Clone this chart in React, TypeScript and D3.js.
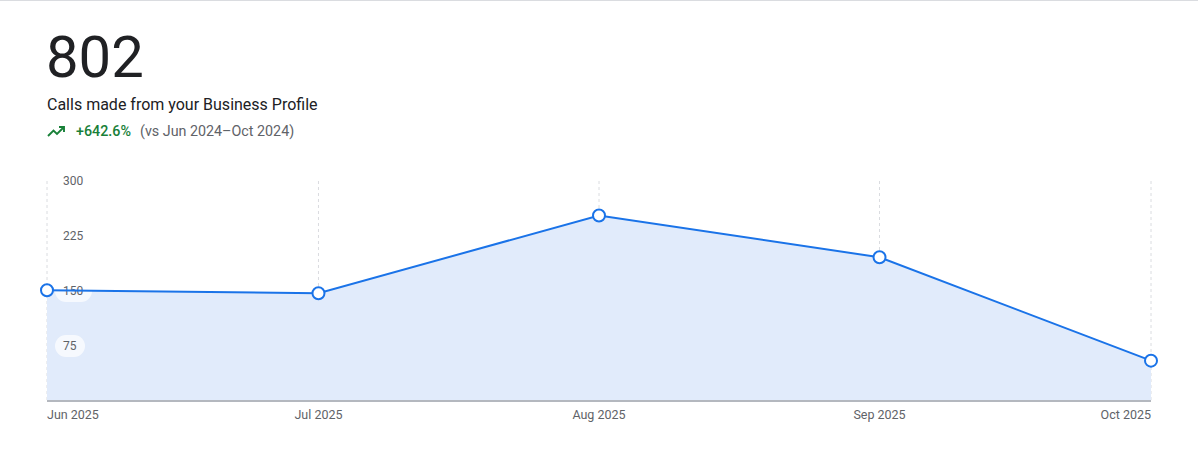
import React from "react";
import * as d3 from "d3";

const months = ["2025-06-01", "2025-07-01", "2025-08-01", "2025-09-01", "2025-10-01"];
const monthLabels = ["Jun 2025", "Jul 2025", "Aug 2025", "Sep 2025", "Oct 2025"];
const calls = [151, 147, 253, 196, 55];
const yTicks = [75, 150, 225, 300];
const total = "802";
const metricLabel = "Calls made from your Business Profile";
const changeLabel = "+642.6%";
const compareLabel = "(vs Jun 2024\u2013Oct 2024)";

const W = 1198;
const H = 456;
const left = 47;
const right = 1151;
const top = 181;
const bottom = 401;

type Pt = { d: Date; v: number };

export default function App() {
  const parse = d3.utcParse("%Y-%m-%d");
  const dates = months.map((m) => parse(m)!);
  const x = d3.scaleUtc().domain([dates[0], dates[dates.length - 1]]).range([left, right]);
  const y = d3.scaleLinear().domain([0, 300]).range([bottom, top]);
  const data: Pt[] = dates.map((d, i) => ({ d, v: calls[i] }));
  const line = d3.line<Pt>().x((p) => x(p.d)).y((p) => y(p.v));
  const area = d3
    .area<Pt>()
    .x((p) => x(p.d))
    .y0(bottom)
    .y1((p) => y(p.v));
  const font = "Roboto, 'Noto Sans', Arial, sans-serif";

  return (
    <svg
      width={W}
      height={H}
      style={{ position: "absolute", left: 0, top: 0, display: "block", fontFamily: font }}
    >
      <rect x={0} y={0} width={W} height={H} fill="#fff" />
      <line x1={0} x2={W} y1={0.5} y2={0.5} stroke="#dadce0" />
      <text x={46} y={77} fontSize={58} fill="#202124" fontWeight={400}>
        {total}
      </text>
      <text x={47} y={110} fontSize={16} fill="#202124">
        {metricLabel}
      </text>
      <g transform="translate(47,124)" fill="none" stroke="#188038" strokeWidth={1.9}>
        <polyline points="1,12 6.5,6.5 10,10 16.5,3.5" />
        <polyline points="12,3 17,3 17,8" />
      </g>
      <text x={76} y={136} fontSize={14.3} fill="#188038" fontWeight={500}>
        {changeLabel}
      </text>
      <text x={140} y={136} fontSize={14.3} fill="#5f6368">
        {compareLabel}
      </text>

      {dates.map((d, i) => (
        <line
          key={i}
          x1={x(d)}
          x2={x(d)}
          y1={top}
          y2={bottom}
          stroke="#dadce0"
          strokeDasharray="3,3"
          strokeWidth={1}
        />
      ))}
      <path d={area(data)!} fill="#e1ebfb" />
      {yTicks.map((t) => (
        <g key={t}>
          <rect x={55} y={y(t) - 11} width={t >= 100 ? 37 : 30} height={22} rx={11} fill="#fff" opacity={0.7} />
          <text x={63} y={y(t)} dy="0.35em" fontSize={12} fill="#5f6368">
            {t}
          </text>
        </g>
      ))}
      <line x1={left} x2={right} y1={bottom} y2={bottom} stroke="#b4b8bf" strokeWidth={2} />
      <path d={line(data)!} fill="none" stroke="#1a73e8" strokeWidth={2} />
      {data.map((p, i) => (
        <circle key={i} cx={x(p.d)} cy={y(p.v)} r={6} fill="#fff" stroke="#1a73e8" strokeWidth={2} />
      ))}
      {dates.map((d, i) => (
        <text
          key={i}
          x={x(d)}
          y={419}
          fontSize={12.5}
          fill="#5f6368"
          textAnchor={i === 0 ? "start" : i === dates.length - 1 ? "end" : "middle"}
        >
          {monthLabels[i]}
        </text>
      ))}
    </svg>
  );
}
